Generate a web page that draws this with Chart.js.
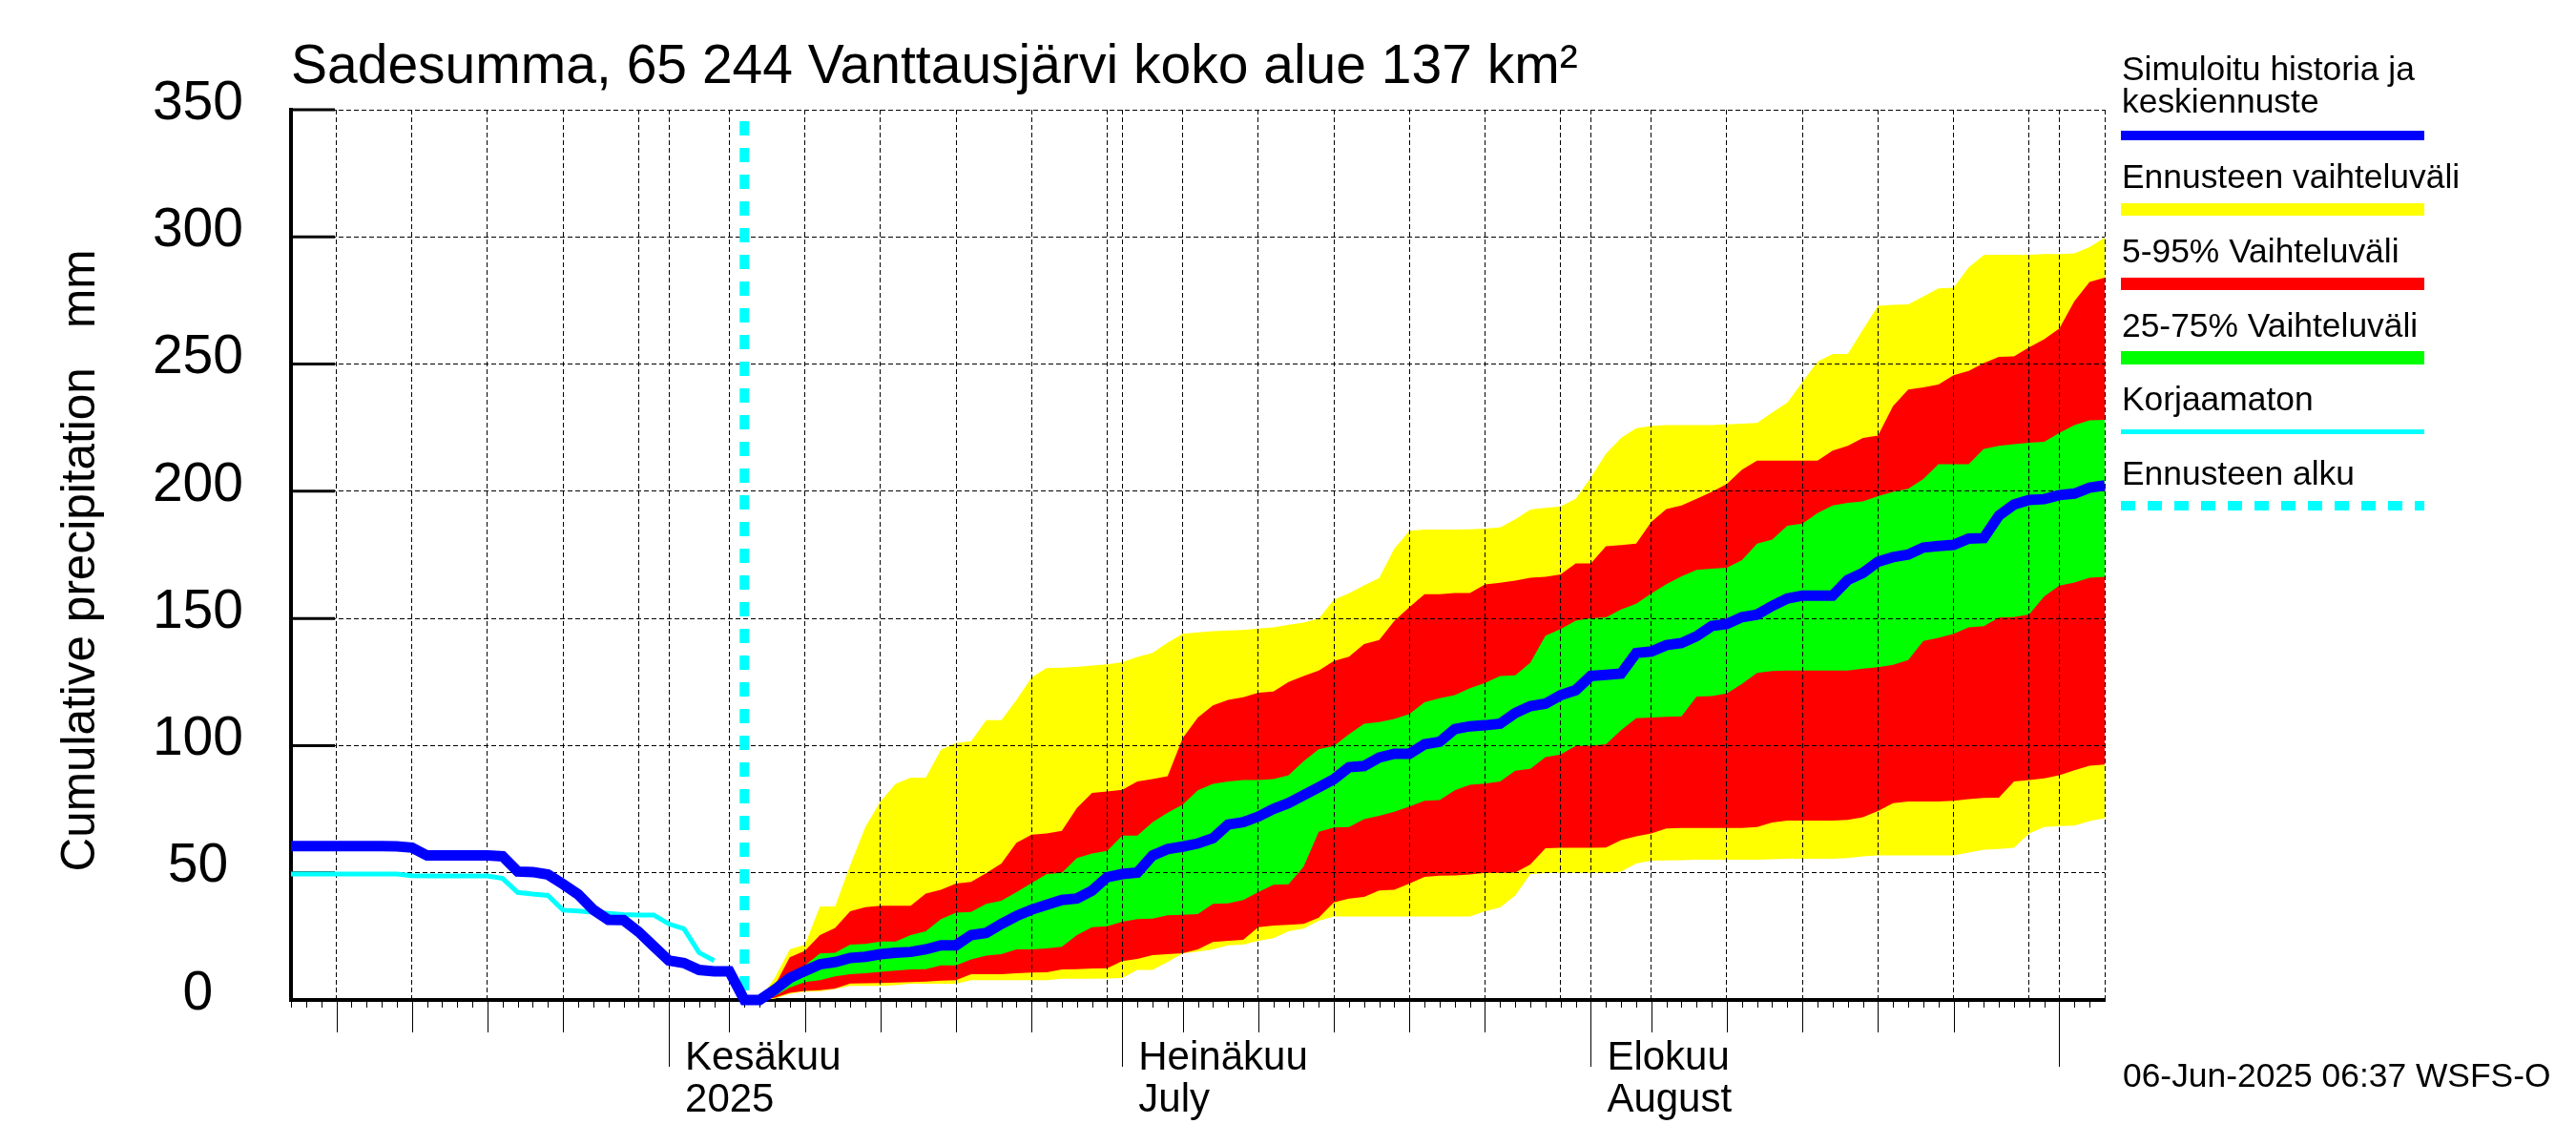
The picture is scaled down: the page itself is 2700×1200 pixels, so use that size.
<!DOCTYPE html>
<html>
<head>
<meta charset="utf-8">
<title>Sadesumma</title>
<script src="https://cdn.jsdelivr.net/npm/chart.js@4"></script>
<style>
  html, body { margin: 0; padding: 0; background: #fff; }
  canvas { display: block; }
</style>
</head>
<body>
<canvas id="rainChart" width="2700" height="1200"></canvas>
<script>
/* ── Days are counted from 7 May 2025 (day 0), one value per day ── */
const LAST_DAY = 120;
const FORECAST_START_DAY = 30;
const FIRST_BAND_DAY = 31;

const gridDays  = [3, 8, 13, 18, 23, 25, 29, 34, 39, 44, 49, 54, 55, 59, 64, 69, 74, 79, 84, 86, 90, 95, 100, 105, 110, 115, 117, 120];
const shortDays = [23, 54, 84, 115, 120];   /* grid line, but only a day tick below the axis */
const monthDays = [25, 55, 86, 117];
const monthLabels = { 25: ["Kesäkuu", "2025"], 55: ["Heinäkuu", "July"], 86: ["Elokuu", "August"] };
const yTicks = [0, 50, 100, 150, 200, 250, 300, 350];

/* ── Series ── */
const simulatedHistory = [60.5, 60.5, 60.5, 60.5, 60.5, 60.5, 60.5, 60.4, 59.9, 56.8, 56.8, 56.8, 56.8, 56.8, 56.5, 50.5,
  50.3, 49.3, 45.5, 41.5, 35.5, 31.5, 31.4, 26.8, 21.1, 15.5, 14.5, 11.8, 11.3, 11.3, 0];
const simulatedForecast = [0, 4, 8.6, 11.4, 14, 14.9, 16.5, 17, 18, 18.6, 18.9, 19.9, 21.5, 21.5, 25.5, 26.4, 29.9, 33, 35.5, 37.4, 39.3, 39.9, 43, 48.3,
  49.5, 50.1, 56.8, 59.3, 60.3, 61.5, 63.6, 69, 69.9, 72.1, 75.1, 77.4, 80.5, 83.6, 86.8, 91.5, 92, 95.3, 96.8, 96.8, 100.5, 101.5, 106.5, 107.6, 108, 108.6, 112.8, 115.5, 116.5, 119.8, 121.8,
  127.4, 127.8, 128.3, 136.4, 137, 139.5, 140.3, 143, 147, 147.8, 150.5, 151.5, 154.9, 157.8, 159, 159, 159, 165.1, 167.9, 172.3, 174.1, 175.1, 177.9, 178.5, 178.9, 181.4, 181.6, 190.4, 194.8, 196.6, 196.9,
  198.5, 199.1, 201.4, 202.3];
const uncorrected = [49.5, 49.5, 49.5, 49.5, 49.5, 49.5, 49.5, 49.5, 48.9, 48.8, 48.8, 48.8, 48.8, 48.8, 47.8, 42.3,
  41.6, 41.1, 35.3, 35, 34.5, 34, 33.6, 33.4, 33.4, 29.9, 28, 18.6, 15.5];

const yellowHigh = [0, 8.6, 19.9, 21.8, 36.8, 36.8, 53, 68, 78, 85, 87.4, 87.4, 98.4, 101, 101.8, 110, 110, 118, 126.8, 130.5, 130.6, 130.9, 131.5, 132,
  132.8, 134.9, 136.5, 140.5, 144, 144.5, 145, 145.3, 145.5, 146, 146.5, 147.5, 148.4, 150, 157.4, 159.9, 163, 165.9, 177.4, 184.5, 184.9, 184.9, 184.9, 185, 185.3, 185.8, 189, 192.8, 193.5, 194, 197,
  205.4, 214.8, 221, 224.8, 225.6, 226, 226, 226, 226, 226.3, 226.6, 226.9, 231, 234.8, 242.9, 251, 254, 254, 263.5, 272.9, 273.3, 273.5, 276.6, 279.8, 280, 288, 292.9, 293, 293, 293, 293.3,
  293.3, 293.5, 296, 299.7];
const yellowLow = [0, 0.5, 2.4, 3.3, 3.4, 4.3, 5.5, 5.5, 5.5, 5.8, 6.4, 6.4, 6.4, 6.4, 7.8, 7.8, 7.8, 7.8, 7.8, 7.8, 8.3, 8.3, 8.3, 8.4,
  8.6, 11.8, 11.8, 14.9, 18.3, 19, 19.9, 21.5, 21.8, 23.3, 24.3, 27, 28, 31.1, 32.8, 32.8, 32.8, 32.8, 32.8, 32.8, 32.8, 32.8, 32.8, 32.8, 34.9, 36.4, 41.1, 49.5, 49.9, 50, 50,
  50, 50, 50.5, 53.6, 54.8, 54.9, 55, 55.1, 55.1, 55.1, 55.1, 55.1, 55.3, 55.5, 55.5, 55.5, 55.5, 55.8, 56.5, 56.8, 56.8, 56.8, 56.8, 56.8, 56.8, 58, 59.1, 59.4, 59.8, 65.5, 68,
  68.4, 68.6, 70.3, 71.5];
const redHigh = [0, 5.5, 16.8, 19.3, 25.5, 28.3, 34.9, 36.5, 37, 37, 37, 41.8, 43.3, 45.8, 46.4, 49.9, 53.6, 61.8, 65, 65.5, 66.5, 75.5, 81.4, 82,
  82.6, 85.9, 86.8, 88, 103, 111, 115.8, 118, 119, 120.8, 121.3, 125, 127.4, 129.5, 133.3, 135, 139.9, 141.5, 149, 154.5, 159.5, 159.5, 160, 160, 163.4, 164, 164.9, 166, 166.4, 167.3, 171.6,
  171.6, 178.4, 178.8, 179.4, 187.9, 193, 194.4, 197, 199.8, 202.9, 208.5, 212, 212, 212, 212, 212, 216, 217.9, 221, 221.9, 233.5, 240, 240.8, 242, 245.6, 247.3, 250.4, 252.8, 253, 256.6, 259.8,
  264, 274.8, 282.3, 284];
const redLow = [0, 0.8, 2.8, 3.6, 3.8, 4.5, 6.5, 6.6, 6.7, 6.8, 7, 7.2, 7.6, 7.8, 10.1, 10.1, 10.1, 10.5, 10.8, 10.9, 12, 12.1, 12.4, 12.5,
  15.3, 16.1, 17.6, 18, 18.4, 19.9, 22.8, 23.3, 23.6, 28.6, 29.3, 29.5, 29.9, 32.4, 38.4, 39.9, 40.5, 43, 43.3, 45.8, 48.4, 48.9, 49, 49.3, 50, 50, 50.1, 53.3, 59.6, 59.8, 59.8,
  59.8, 59.9, 62.8, 64.3, 65.5, 67.4, 67.6, 67.6, 67.6, 67.6, 67.6, 68, 69.8, 70.5, 70.5, 70.5, 70.5, 70.8, 71.8, 74.3, 77.4, 78, 78, 78, 78.3, 79, 79.4, 79.5, 85.9, 86.5, 87.1,
  88.3, 90.3, 92.1, 92.6];
const greenHigh = [0, 2.8, 10.5, 13.6, 18.3, 18.6, 21.8, 22, 23, 23, 25.5, 27, 31.8, 34.3, 34.6, 37.8, 39, 42.4, 46, 49.5, 50, 55.8, 57.6, 58.6,
  64.6, 64.6, 69.9, 73.6, 76.8, 82.4, 85, 85.9, 86.5, 86.5, 86.8, 88.3, 93.9, 98.6, 99.9, 104.5, 108.6, 109.3, 110.5, 112.4, 117, 118.6, 119.9, 122.6, 124.6, 127.4, 127.6, 132.6, 143.2, 145.8, 149.1,
  150.1, 150.4, 153.5, 155.8, 159.8, 163.5, 166.6, 169.1, 169.6, 169.9, 172.9, 179.4, 181, 186.4, 187.3, 191.4, 194.4, 195.4, 196, 198.1, 199.8, 201, 204.8, 210.6, 210.6, 210.6, 216.6, 217.9, 218.5, 219.1, 219.5,
  222.9, 226, 227.9, 228.1];
const greenLow = [0, 1.5, 4.9, 7, 7.8, 9.3, 10.1, 10.5, 11.1, 11.5, 12, 12.1, 13.6, 13.6, 15.9, 17.4, 18, 19.9, 19.9, 20.3, 20.9, 25.5, 28.6, 29,
  30.8, 31.8, 32, 33.3, 33.5, 33.8, 37.8, 38, 39.3, 42.4, 45.3, 45.5, 52.4, 66.1, 67.8, 68, 71.1, 72.4, 74, 76.1, 78.3, 78.6, 82.4, 84.6, 85.1, 85.9, 90.1, 90.9, 95.5, 96.5, 99.9,
  100, 100.5, 106.1, 110.8, 111, 111.3, 111.5, 119.3, 119.5, 120.5, 124.3, 128.6, 129.3, 129.5, 129.5, 129.5, 129.5, 129.5, 130.3, 130.8, 131.8, 133.6, 141.1, 142.4, 144, 146.5, 147, 150.3, 150.5, 151.6, 158.7,
  162.9, 164.1, 166, 166.4];

const startLineTop = 345.5;

/* ── Text and legend rows ── */
const FONT = '"Liberation Sans", Arial, sans-serif';
const titleText = "Sadesumma, 65 244 Vanttausjärvi koko alue 137 km²";
const yTitle = "Cumulative precipitation   mm";
const stampText = "06-Jun-2025 06:37 WSFS-O";
const legendRows = [
  { lines: [["Simuloitu historia ja", 84], ["keskiennuste", 118]], color: "#0000ff", y: 142, h: 10 },
  { lines: [["Ennusteen vaihteluväli", 197]], color: "#ffff00", y: 219.5, h: 13 },
  { lines: [["5-95% Vaihteluväli", 275]], color: "#ff0000", y: 297.5, h: 13 },
  { lines: [["25-75% Vaihteluväli", 353]], color: "#00ff00", y: 375, h: 14 },
  { lines: [["Korjaamaton", 430]], color: "#00ffff", y: 452.5, h: 5 },
  { lines: [["Ennusteen alku", 508]], color: "#00ffff", y: 530, h: 10, dash: [15, 13] },
];

/* ── Helpers ── */
function points(firstDay, values) {
  return values.map((v, i) => ({ x: firstDay + i, y: v }));
}

function bandEdge(values, color, order, fill) {
  return { data: points(FIRST_BAND_DAY, values), borderWidth: 0, pointRadius: 0, tension: 0,
    backgroundColor: color, fill: fill ? "+1" : false, order };
}

function line(data, color, width, order, dash) {
  return { data, borderColor: color, borderWidth: width, borderDash: dash || [], pointRadius: 0,
    tension: 0, fill: false, clip: false, order };
}

/* ── Small ticks below the axis, y ticks, grid over the bands, legend ── */
const axisMarks = {
  id: "axisMarks",
  beforeDatasetsDraw(chart) {
    const { ctx, scales: { x, y }, chartArea: a } = chart;
    ctx.save();
    ctx.strokeStyle = "#000";
    ctx.lineWidth = 1;
    ctx.beginPath();
    for (let d = 0; d < LAST_DAY; d++) {
      const px = Math.round(x.getPixelForValue(d)) + 0.5;
      let len = 8;
      if (monthDays.includes(d)) len = 70;
      else if (gridDays.includes(d) && !shortDays.includes(d)) len = 34;
      ctx.moveTo(px, a.bottom);
      ctx.lineTo(px, a.bottom + len);
    }
    ctx.stroke();
    ctx.lineWidth = 3;
    ctx.beginPath();
    yTicks.forEach(v => {
      const py = y.getPixelForValue(v);
      ctx.moveTo(a.left, py);
      ctx.lineTo(a.left + 46, py);
    });
    ctx.stroke();
    /* heavy axis lines */
    ctx.lineWidth = 4;
    ctx.beginPath();
    ctx.moveTo(a.left, a.top - 2);
    ctx.lineTo(a.left, a.bottom);
    ctx.lineTo(a.right, a.bottom);
    ctx.stroke();
    ctx.restore();
  },
  beforeDatasetDraw(chart, args) {
    /* grid sits on the colour bands but under the lines */
    if (args.meta.order !== 2) return;
    chart.scales.x.drawGrid(chart.chartArea);
    chart.scales.y.drawGrid(chart.chartArea);
  },
  afterDraw(chart) {
    const { ctx, chartArea: a } = chart;
    ctx.save();
    ctx.textAlign = "left";
    ctx.textBaseline = "alphabetic";
    ctx.font = "35.4px " + FONT;
    legendRows.forEach(r => {
      ctx.fillStyle = "#000";
      r.lines.forEach(([txt, base]) => ctx.fillText(txt, 2224, base));
      ctx.strokeStyle = r.color;
      ctx.lineWidth = r.h;
      ctx.setLineDash(r.dash || []);
      ctx.beginPath();
      ctx.moveTo(2223, r.y);
      ctx.lineTo(2541, r.y);
      ctx.stroke();
    });
    ctx.setLineDash([]);
    ctx.fillStyle = "#000";
    ctx.font = "35.4px " + FONT;
    ctx.fillText(stampText, 2225, 1139);

    /* y axis title */
    ctx.font = "49.5px " + FONT;
    ctx.textAlign = "center";
    ctx.translate(99, (a.top + a.bottom) / 2 + 6);
    ctx.rotate(-Math.PI / 2);
    ctx.fillText(yTitle, 0, 0);
    ctx.restore();
  },
};

/* ================================================================
   Chart
================================================================ */
new Chart(document.getElementById("rainChart").getContext("2d"), {
  type: "line",
  plugins: [axisMarks],
  data: {
    datasets: [
      bandEdge(yellowHigh, "#ffff00", 7, true),
      bandEdge(yellowLow,  "#ffff00", 8, false),
      bandEdge(redHigh,    "#ff0000", 5, true),
      bandEdge(redLow,     "#ff0000", 6, false),
      bandEdge(greenHigh,  "#00ff00", 3, true),
      bandEdge(greenLow,   "#00ff00", 4, false),
      line([{ x: FORECAST_START_DAY, y: startLineTop }, { x: FORECAST_START_DAY, y: 0 }], "#00ffff", 10, 2, [15, 13]),
      line(points(0, uncorrected), "#00ffff", 5, 1),
      line(points(0, simulatedHistory.concat(simulatedForecast)), "#0000ff", 11, 0),
    ],
  },
  options: {
    responsive: false,
    animation: false,
    devicePixelRatio: 1,
    layout: { padding: { right: 494, left: 0, top: 0, bottom: 0 } },
    plugins: {
      legend: { display: false },
      tooltip: { enabled: false },
      title: { display: true, text: titleText, align: "start", fullSize: false, color: "#000",
        font: { family: FONT, size: 57, weight: "normal", lineHeight: 1.2 },
        padding: { top: 37, bottom: 9.6 } },
    },
    scales: {
      x: {
        type: "linear", min: 0, max: LAST_DAY,
        afterBuildTicks: axis => { axis.ticks = gridDays.map(value => ({ value })); },
        afterFit: axis => { axis.height = 152; },
        grid: { color: "#000", lineWidth: 1, drawTicks: false, tickLength: 0 },
        border: { color: "#000", width: 4, dash: [5, 3] },
        ticks: {
          autoSkip: false, maxRotation: 0, minRotation: 0, align: "start", labelOffset: 17, padding: 39,
          color: "#000", font: { family: FONT, size: 42, lineHeight: 1.06 },
          callback: v => monthLabels[v] || "",
        },
      },
      y: {
        min: 0, max: 350,
        afterBuildTicks: axis => { axis.ticks = yTicks.map(value => ({ value })); },
        afterFit: axis => { axis.width = 305; },
        grid: { color: "#000", lineWidth: 1, drawTicks: false, tickLength: 0 },
        border: { color: "#000", width: 4, dash: [5, 3] },
        ticks: {
          crossAlign: "center", labelOffset: -6, padding: 50,
          color: "#000", font: { family: FONT, size: 57 },
        },
      },
    },
  },
});
</script>
</body>
</html>
